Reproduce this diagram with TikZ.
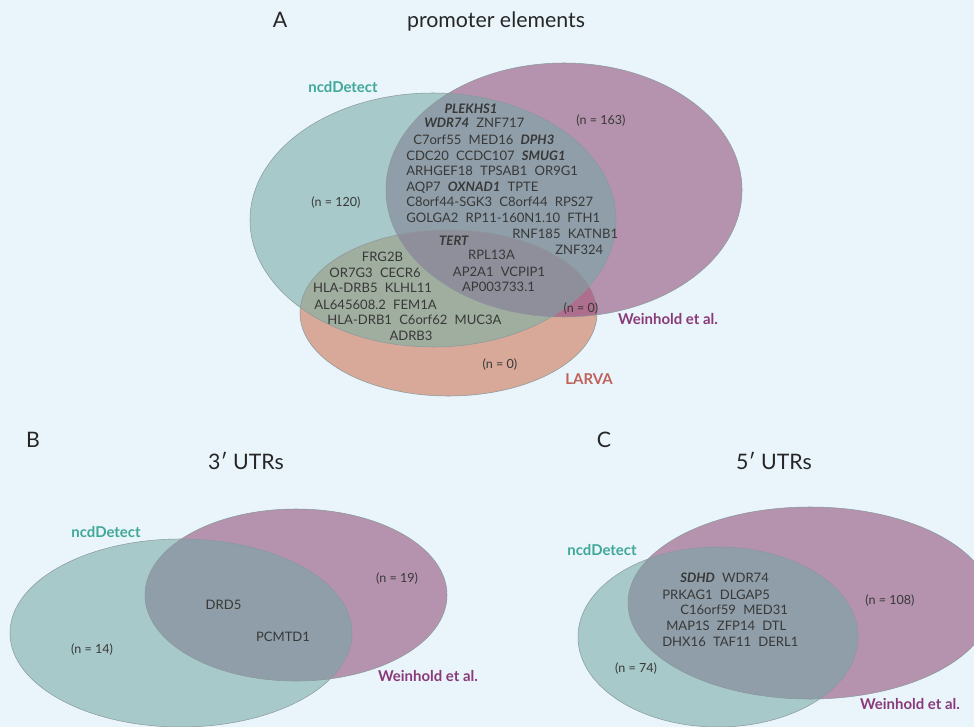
\documentclass[tikz,border=0pt]{standalone}
\usepackage{fontspec}
\setmainfont{Lato}
\definecolor{bgc}{HTML}{E9F4FB}
\definecolor{tealc}{HTML}{A8C9C9}
\definecolor{purpc}{HTML}{B592AD}
\definecolor{tpc}{HTML}{8F9EA8}
\definecolor{larc}{HTML}{D8A999}
\definecolor{tlc}{HTML}{A0AE9F}
\definecolor{plc}{HTML}{AE6E8E}
\definecolor{allc}{HTML}{8F8F9C}
\definecolor{edgec}{HTML}{8A9A9C}
\definecolor{ncdc}{HTML}{40A898}
\definecolor{weic}{HTML}{8A3A78}
\definecolor{larvac}{HTML}{C0625A}
\definecolor{txtc}{HTML}{383838}
\newcommand{\gs}{\hspace{0.55em}}
\newcommand{\bi}[1]{\textbf{\textit{#1}}}
\tikzset{
  gene/.style={inner sep=0pt, text height=0.72em, text depth=0pt, text=txtc, font=\fontsize{9.8}{11}\selectfont, anchor=west},
  genec/.style={gene, anchor=center},
  count/.style={inner sep=0pt, text height=0.72em, text depth=0pt, text=txtc, font=\fontsize{9.4}{11}\selectfont},
  title/.style={inner sep=0pt, text height=0.72em, text depth=0pt, text=black!85, font=\fontsize{16}{19}\selectfont},
  setlab/.style={inner sep=0pt, text height=0.72em, text depth=0pt, font=\bfseries\fontsize{11.2}{13}\selectfont},
  edge/.style={draw=edgec, line width=0.4pt}
}
\begin{document}
\begin{tikzpicture}[x=0.75pt,y=-0.75pt]
\fill[bgc] (0,0) rectangle (974,727);
\useasboundingbox (0,0) rectangle (974,727);
% ---------- Panel A ----------
\def\tA{(433,220) ellipse [x radius=183, y radius=127]}
\def\pA{(564,190) ellipse [x radius=178, y radius=127]}
\def\lA{(448.5,313) ellipse [x radius=148.5, y radius=83]}
\fill[tealc] \tA;
\fill[purpc] \pA;
\fill[larc] \lA;
\begin{scope}\clip \tA; \fill[tpc] \pA; \end{scope}
\begin{scope}\clip \tA; \fill[tlc] \lA; \end{scope}
\begin{scope}\clip \pA; \fill[plc] \lA; \end{scope}
\begin{scope}\clip \tA; \clip \pA; \fill[allc] \lA; \end{scope}
\draw[edge] \tA; \draw[edge] \pA; \draw[edge] \lA;
\node[title] (Alab) at (280,23) {A};
\node[title] (Atitle) at (496,23) {promoter elements};
\node[setlab, text=ncdc] (Ancd) at (343,88) {ncdDetect};
\node[setlab, text=weic] (Awei) at (668,320) {Weinhold et al.};
\node[setlab, text=larvac] (Alar) at (589,380) {LARVA};
\node[count] (An1) at (601,120) {(n = 163)};
\node[count] (An2) at (336,202) {(n = 120)};
\node[count] (An3) at (581,308) {(n = 0)};
\node[count] (An4) at (500,364) {(n = 0)};
\node[genec] (g1) at (471,109) {\bi{PLEKHS1}};
\node[gene] (g2) at (424,123) {\bi{WDR74}\gs ZNF717};
\node[gene] (g3) at (413,140) {C7orf55\gs MED16\gs\bi{DPH3}};
\node[gene] (g4) at (406,156) {CDC20\gs CCDC107\gs\bi{SMUG1}};
\node[gene] (g5) at (406,171) {ARHGEF18\gs TPSAB1\gs OR9G1};
\node[gene] (g6) at (406,187) {AQP7\gs\bi{OXNAD1}\gs TPTE};
\node[gene] (g7) at (406,202) {C8orf44-SGK3\gs C8orf44\gs RPS27};
\node[gene] (g8) at (406,218) {GOLGA2\gs RP11-160N1.10\gs FTH1};
\node[gene] (g9) at (512,234) {RNF185\gs KATNB1};
\node[gene] (g10) at (555,250) {ZNF324};
\node[genec] (g11) at (454,241) {\bi{TERT}};
\node[genec] (g12) at (382.5,257) {FRG2B};
\node[genec] (g13) at (491.5,255) {RPL13A};
\node[genec] (g14) at (375,273) {OR7G3\gs CECR6};
\node[genec] (g15) at (499,272) {AP2A1\gs VCPIP1};
\node[genec] (g16) at (372.5,288) {HLA-DRB5\gs KLHL11};
\node[genec] (g17) at (498.5,287) {AP003733.1};
\node[genec] (g18) at (375.5,305) {AL645608.2\gs FEM1A};
\node[genec] (g19) at (414.5,320) {HLA-DRB1\gs C6orf62\gs MUC3A};
\node[genec] (g20) at (411,336) {ADRB3};
% ---------- Panel B ----------
\def\tB{(181,633) ellipse [x radius=171, y radius=94]}
\def\pB{(296,595) ellipse [x radius=151, y radius=86]}
\fill[tealc] \tB;
\fill[purpc] \pB;
\begin{scope}\clip \tB; \fill[tpc] \pB; \end{scope}
\draw[edge] \tB; \draw[edge] \pB;
\node[title] (Blab) at (33,443) {B};
\node[title] (Btitle) at (246,465) {3′ UTRs};
\node[setlab, text=ncdc] (Bncd) at (106,533) {ncdDetect};
\node[setlab, text=weic] (Bwei) at (428,677) {Weinhold et al.};
\node[count] (Bn1) at (397,578) {(n = 19)};
\node[count] (Bn2) at (92,649) {(n = 14)};
\node[genec] (b1) at (223.5,605) {DRD5};
\node[genec] (b2) at (283,637) {PCMTD1};
% ---------- Panel C ----------
\def\tC{(718,637) ellipse [x radius=140, y radius=90]}
\def\pC{(810,603) ellipse [x radius=182, y radius=96]}
\fill[tealc] \tC;
\fill[purpc] \pC;
\begin{scope}\clip \tC; \fill[tpc] \pC; \end{scope}
\draw[edge] \tC; \draw[edge] \pC;
\node[title] (Clab) at (604,443) {C};
\node[title] (Ctitle) at (774,465) {5′ UTRs};
\node[setlab, text=ncdc] (Cncd) at (602,551) {ncdDetect};
\node[setlab, text=weic] (Cwei) at (910,705) {Weinhold et al.};
\node[count] (Cn1) at (890,600) {(n = 108)};
\node[count] (Cn2) at (636,668) {(n = 74)};
\node[gene] (c1) at (680,578) {\bi{SDHD}\gs WDR74};
\node[gene] (c2) at (662,595) {PRKAG1\gs DLGAP5};
\node[gene] (c3) at (680,610) {C16orf59\gs MED31};
\node[gene] (c4) at (666,626) {MAP1S\gs ZFP14\gs DTL};
\node[gene] (c5) at (662,642) {DHX16\gs TAF11\gs DERL1};
\end{tikzpicture}
\end{document}
